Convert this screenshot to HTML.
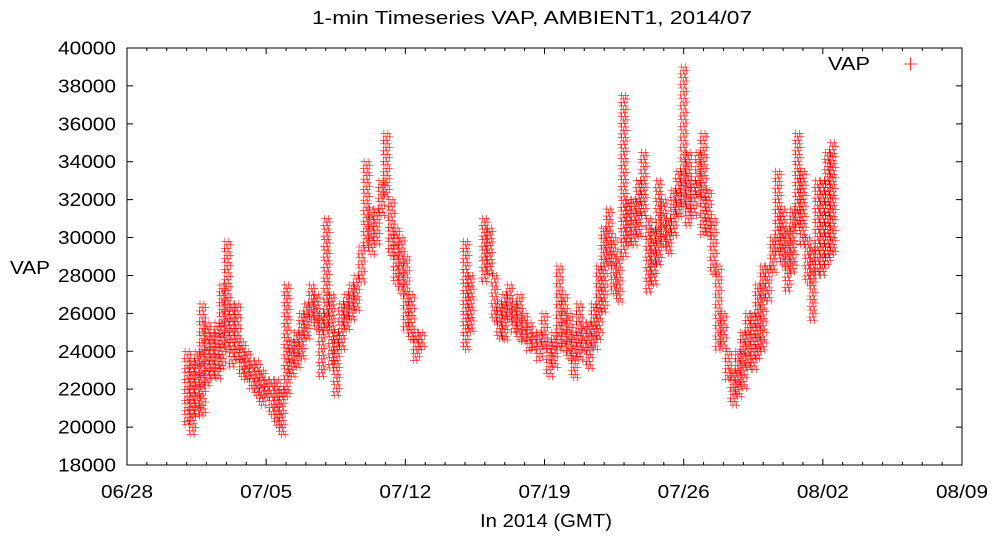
<!DOCTYPE html>
<html><head><meta charset="utf-8"><style>
html,body{margin:0;padding:0;background:#fff;}
svg{display:block;font-family:"Liberation Sans",sans-serif;}
</style></head><body>
<svg id="chart" width="998" height="540">
<text x="312" y="24" textLength="440" lengthAdjust="spacingAndGlyphs" font-size="18">1-min Timeseries VAP, AMBIENT1, 2014/07</text>
<text x="10" y="274" textLength="40" lengthAdjust="spacingAndGlyphs" font-size="18">VAP</text>
<text x="480" y="527" textLength="132" lengthAdjust="spacingAndGlyphs" font-size="18">In 2014 (GMT)</text>
<g id="axes"></g>
<g id="points"></g>
<g>
<text x="828" y="70" textLength="42" lengthAdjust="spacingAndGlyphs" font-size="18">VAP</text>
<path d="M904 64h13M910.5 57.5v13" stroke="#ff0000" stroke-width="0.8"/>
</g>
<rect x="127" y="48" width="835" height="417" fill="none" stroke="#000" stroke-width="1"/>
</svg>
<script>
const yTicks=[18000,20000,22000,24000,26000,28000,30000,32000,34000,36000,38000,40000];
const xTickDays=[0,7,14,21,28,35,42];
const xTickLabels=["06/28","07/05","07/12","07/19","07/26","08/02","08/09"];
const days=[3.05,3.3,3.55,3.8,4.05,4.3,4.55,4.8,5.05,5.3,5.55,5.8,6.05,6.3,6.55,6.8,7.05,7.3,7.55,7.8,8.05,8.3,8.55,8.8,9.05,9.3,9.55,9.8,10.05,10.3,10.55,10.8,11.05,11.3,11.55,11.8,12.05,12.3,12.55,12.8,13.05,13.3,13.55,13.8,14.05,14.3,14.55,14.8,
17.05,17.3,
18.0,18.25,18.5,18.75,19.0,19.25,19.5,19.75,20.0,20.25,20.5,20.75,21.0,21.25,21.5,21.75,22.0,22.25,22.5,22.75,23.0,23.25,23.5,23.75,24.0,24.25,24.5,24.75,25.0,25.25,25.5,25.75,26.0,26.25,26.5,26.75,27.0,27.25,27.5,27.75,28.0,28.25,28.5,28.75,29.0,29.25,29.5,29.75,30.0,30.25,30.5,30.75,31.0,31.25,31.5,31.75,32.0,32.25,32.5,32.75,33.0,33.25,33.5,33.75,34.0,34.25,34.5,34.75,35.0,35.25,35.5];
const vapLow=[20000,19500,20500,20500,22000,22500,22500,23000,24000,23000,23500,22500,22500,22000,21500,21000,21500,20500,20000,19500,21500,22500,23000,23500,24500,25500,25000,22500,25000,23000,21500,24000,25000,25500,26000,27500,29500,29000,29500,31000,32000,29000,27500,27000,25000,24500,23500,24000,
24000,25000,
27500,28000,25500,24500,24500,25500,25000,24500,24500,24000,24000,23500,24000,22500,23000,24000,24000,23500,22500,23500,24000,23000,24000,24500,26000,28500,27000,26500,29000,29500,29500,30000,31000,27000,27500,28500,29500,29000,30000,31000,31500,30500,31000,32000,30000,30000,28000,24000,24000,22500,21000,21500,22000,23000,23000,23500,24000,26500,28000,29000,28500,27000,28000,30500,29500,27500,25500,28000,28000,28500,29000];
const vapHigh=[24000,23500,24000,26500,25500,25000,25500,27500,29800,26500,26500,24500,24000,23500,23500,23000,22500,22500,22500,22000,27500,24500,25000,26000,26500,27500,27000,26000,31000,27000,25000,26500,27000,27500,28000,29500,34000,31500,31500,33000,35500,32000,30500,30000,29000,27000,25000,25000,
29800,28000,
31000,30500,28000,26500,27000,27500,26500,27000,26000,25500,25000,25000,26000,24500,25000,28500,27000,26000,25000,26500,25500,25500,26500,28500,30500,31500,30000,29000,37500,32000,32000,33000,34500,31000,30500,33000,32000,31000,32500,33500,39000,34500,33000,34500,35500,32500,31000,28500,26000,24000,23000,24000,25000,26000,26000,27500,28500,28500,30000,33500,31500,30500,31500,35500,33500,30000,29500,33000,33000,34500,35000];

const X0=127,X1=962,Y0=465,Y1=48;
const xScale=d=>X0+(d-0)/(42-0)*(X1-X0);
const yScale=v=>Y0-(v-18000)/(40000-18000)*(Y0-Y1);
const NS="http://www.w3.org/2000/svg";
const axes=document.getElementById('axes');
let tickPath="";
yTicks.forEach((t,i)=>{
  const y=yScale(t);
  tickPath+=`M${X0} ${y}h6M${X1} ${y}h-6`;
  const tx=document.createElementNS(NS,'text');
  tx.setAttribute('x',58);tx.setAttribute('y',y+6.5);
  tx.setAttribute('font-size','18');
  tx.setAttribute('textLength','58');tx.setAttribute('lengthAdjust','spacingAndGlyphs');
  tx.textContent=t;
  
  
  axes.appendChild(tx);
});
for(let d=1;d<42;d++){const x=xScale(d);tickPath+=`M${x} ${Y0}v-3M${x} ${Y1}v3`;}
xTickDays.forEach((d,i)=>{
  const x=xScale(d);
  tickPath+=`M${x} ${Y0}v-6M${x} ${Y1}v6`;
  const tx=document.createElementNS(NS,'text');
  tx.setAttribute('x',x-26);tx.setAttribute('y',498);
  tx.setAttribute('font-size','18');
  tx.setAttribute('textLength','52');tx.setAttribute('lengthAdjust','spacingAndGlyphs');
  tx.textContent=xTickLabels[i];
  
  
  axes.appendChild(tx);
});
const tp=document.createElementNS(NS,'path');
tp.setAttribute('d',tickPath);tp.setAttribute('stroke','#000');tp.setAttribute('fill','none');


axes.appendChild(tp);

const pts=document.getElementById('points');
days.forEach((d,i)=>{
  const xc=xScale(d);
  const yTop=yScale(vapHigh[i]),yBot=yScale(vapLow[i]);
  let p="";let row=0;
  for(let y=yTop;y<=yBot+0.01;y+=3.5){
    const offs=(row%3===0)?[-2.5,1.5]:(row%3===1)?[-0.5,3]:[-3,0.5];
    offs.forEach(o=>{const x=xc+o;p+=`M${(x-3.5).toFixed(1)} ${y.toFixed(1)}h7M${x.toFixed(1)} ${(y-3.5).toFixed(1)}v7`;});
    row++;
  }
  const el=document.createElementNS(NS,'path');
  el.setAttribute('d',p);el.setAttribute('stroke','#ff0000');el.setAttribute('stroke-width','0.6');el.setAttribute('fill','none');
  
  
  pts.appendChild(el);
});
</script>
</body></html>
